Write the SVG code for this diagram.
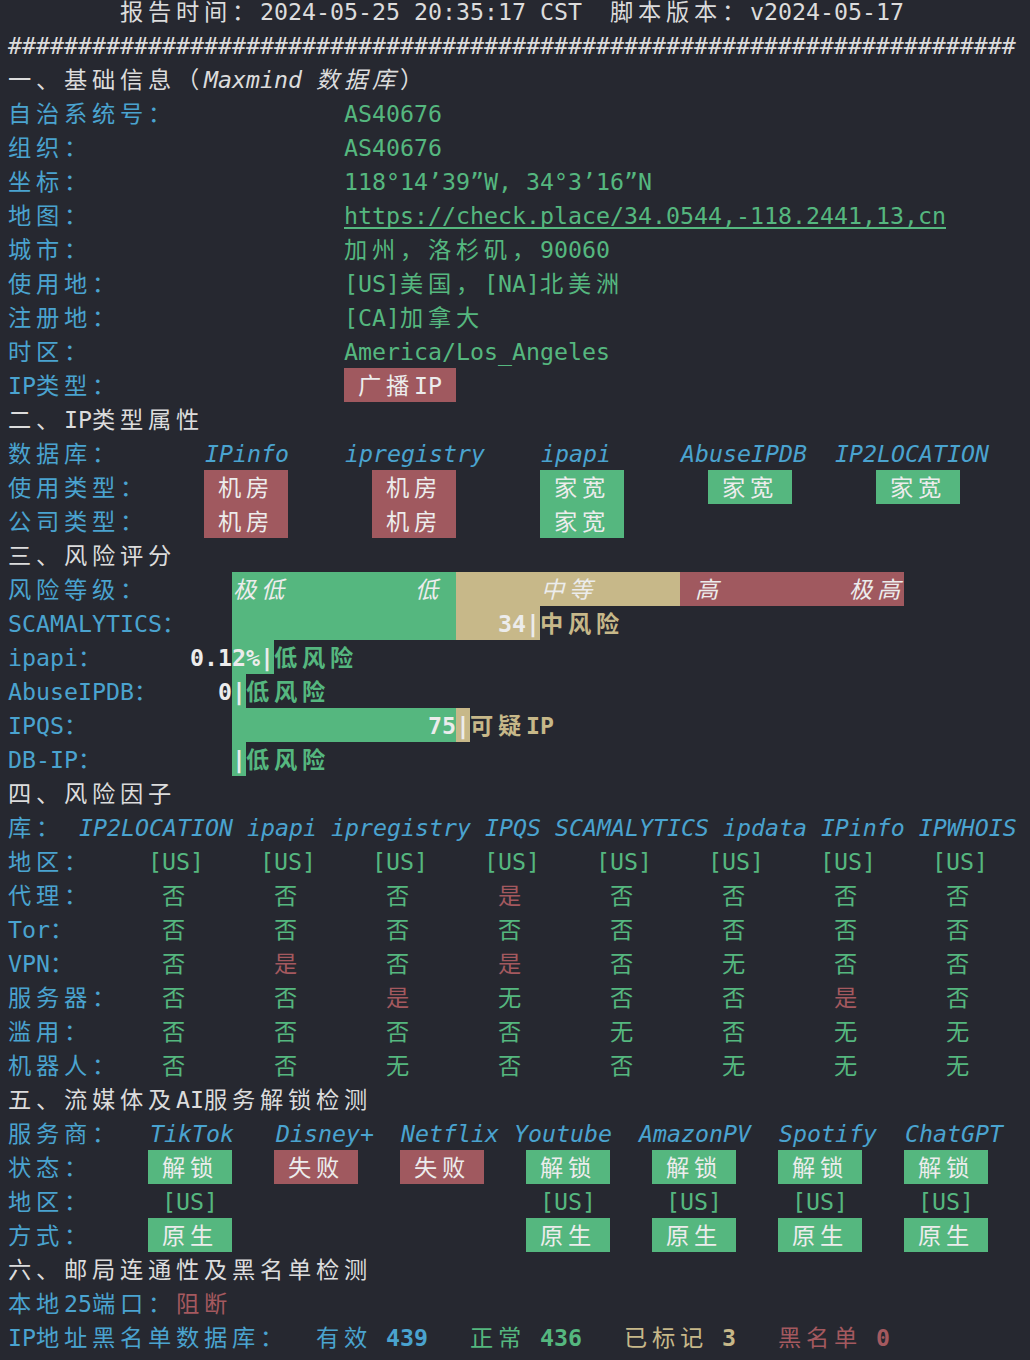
<svg xmlns="http://www.w3.org/2000/svg" width="1030" height="1360" viewBox="0 0 1030 1360">
<style>
.t{font-family:'DejaVu Sans Mono','Noto Sans CJK SC',monospace;font-size:23.25px}
.k{letter-spacing:4.75px}
.w{fill:#dcdcdc}
.c{fill:#4aa3cf}
.g{fill:#55b77f}
.r{fill:#a4595f}
.y{fill:#c7b889}
.bt{fill:#ececec}
.i{font-style:italic}
.b{font-weight:bold}
.gb{fill:#55b77f}
.rb{fill:#a0595f}
.yb{fill:#c7b889}
</style>
<rect x="0" y="0" width="1030" height="1360" fill="#262830"/>

<g id="header">
<text class="t w" y="20"><tspan x="120" class="k">报告时间：</tspan><tspan x="260">2024-05-25 20:35:17 CST</tspan><tspan x="610" class="k">脚本版本：</tspan><tspan x="750">v2024-05-17</tspan></text>
<text class="t w" x="8" y="54">########################################################################</text>
</g>

<g id="sec1-basic">
<text class="t w" y="88"><tspan x="8" class="k">一、基础信息（</tspan><tspan x="204" class="i">Maxmind</tspan><tspan x="316" class="i k">数据库</tspan><tspan x="400" class="k">）</tspan></text>
<text class="t c k" x="8" y="122">自治系统号：</text>
<text class="t g" x="344" y="122">AS40676</text>
<text class="t c k" x="8" y="156">组织：</text>
<text class="t g" x="344" y="156">AS40676</text>
<text class="t c k" x="8" y="190">坐标：</text>
<text class="t g" x="344" y="190">118°14’39”W, 34°3’16”N</text>
<text class="t c k" x="8" y="224">地图：</text>
<text class="t g" x="344" y="224">https://check.place/34.0544,-118.2441,13,cn</text>
<rect class="gb" x="344" y="227" width="602" height="2"/>
<text class="t c k" x="8" y="258">城市：</text>
<text class="t g" y="258"><tspan x="344" class="k">加州，洛杉矶，</tspan><tspan x="540">90060</tspan></text>
<text class="t c k" x="8" y="292">使用地：</text>
<text class="t g" y="292"><tspan x="344">[US]</tspan><tspan x="400" class="k">美国，</tspan><tspan x="484">[NA]</tspan><tspan x="540" class="k">北美洲</tspan></text>
<text class="t c k" x="8" y="326">注册地：</text>
<text class="t g" y="326"><tspan x="344">[CA]</tspan><tspan x="400" class="k">加拿大</tspan></text>
<text class="t c k" x="8" y="360">时区：</text>
<text class="t g" x="344" y="360">America/Los_Angeles</text>
<text class="t c" y="394"><tspan x="8">IP</tspan><tspan x="36" class="k">类型：</tspan></text>
<rect class="rb" x="344" y="368" width="112" height="34"/>
<text class="t bt" y="394"><tspan x="358" class="k">广播</tspan><tspan x="414">IP</tspan></text>
</g>

<g id="sec2-iptype">
<text class="t w" y="428"><tspan x="8" class="k">二、</tspan><tspan x="64">IP</tspan><tspan x="92" class="k">类型属性</tspan></text>
<text class="t c k" x="8" y="462">数据库：</text>
<text class="t c i" y="462"><tspan x="205">IPinfo</tspan><tspan x="345">ipregistry</tspan><tspan x="541">ipapi</tspan><tspan x="681">AbuseIPDB</tspan><tspan x="835">IP2LOCATION</tspan></text>
<text class="t c k" x="8" y="496">使用类型：</text>
<text class="t c k" x="8" y="530">公司类型：</text>
<rect class="rb" x="204" y="470" width="84" height="68"/>
<rect class="rb" x="372" y="470" width="84" height="68"/>
<rect class="gb" x="540" y="470" width="84" height="68"/>
<rect class="gb" x="708" y="470" width="84" height="34"/>
<rect class="gb" x="876" y="470" width="84" height="34"/>
<text class="t bt k" y="496"><tspan x="218">机房</tspan><tspan x="386">机房</tspan><tspan x="554">家宽</tspan><tspan x="722">家宽</tspan><tspan x="890">家宽</tspan></text>
<text class="t bt k" y="530"><tspan x="218">机房</tspan><tspan x="386">机房</tspan><tspan x="554">家宽</tspan></text>
</g>

<g id="sec3-risk">
<text class="t w k" x="8" y="564">三、风险评分</text>
<text class="t c k" x="8" y="598">风险等级：</text>
<rect class="gb" x="232" y="572" width="224" height="68"/>
<rect class="yb" x="456" y="572" width="224" height="34"/>
<rect class="rb" x="680" y="572" width="224" height="34"/>
<text class="t bt i k" y="598"><tspan x="233">极低</tspan><tspan x="415">低</tspan><tspan x="541">中等</tspan><tspan x="695">高</tspan><tspan x="849">极高</tspan></text>

<text class="t c" y="632"><tspan x="8">SCAMALYTICS</tspan><tspan x="162" class="k">：</tspan></text>
<rect class="yb" x="456" y="606" width="84" height="34"/>
<text class="t bt b" y="632"><tspan x="498">34</tspan><tspan x="526">|</tspan></text>
<text class="t y b k" x="540" y="632">中风险</text>

<text class="t c" y="666"><tspan x="8">ipapi</tspan><tspan x="78" class="k">：</tspan></text>
<rect class="gb" x="232" y="640" width="42" height="34"/>
<text class="t bt b" y="666"><tspan x="190">0.12%</tspan><tspan x="260">|</tspan></text>
<text class="t g b k" x="274" y="666">低风险</text>

<text class="t c" y="700"><tspan x="8">AbuseIPDB</tspan><tspan x="134" class="k">：</tspan></text>
<rect class="gb" x="232" y="674" width="14" height="34"/>
<text class="t bt b" y="700"><tspan x="218">0</tspan><tspan x="232">|</tspan></text>
<text class="t g b k" x="246" y="700">低风险</text>

<text class="t c" y="734"><tspan x="8">IPQS</tspan><tspan x="64" class="k">：</tspan></text>
<rect class="gb" x="232" y="708" width="224" height="34"/>
<rect class="yb" x="456" y="708" width="14" height="34"/>
<text class="t bt b" y="734"><tspan x="428">75</tspan><tspan x="456">|</tspan></text>
<text class="t y b" y="734"><tspan x="470" class="k">可疑</tspan><tspan x="526">IP</tspan></text>

<text class="t c" y="768"><tspan x="8">DB-IP</tspan><tspan x="78" class="k">：</tspan></text>
<rect class="gb" x="232" y="742" width="14" height="34"/>
<text class="t bt b" x="232" y="768">|</text>
<text class="t g b k" x="246" y="768">低风险</text>
</g>

<g id="sec4-factors">
<text class="t w k" x="8" y="802">四、风险因子</text>
<text class="t c k" x="8" y="836">库：</text>
<text class="t c i" x="79" y="836">IP2LOCATION ipapi ipregistry IPQS SCAMALYTICS ipdata IPinfo IPWHOIS</text>
<text class="t c k" x="8" y="870">地区：</text>
<text class="t g" y="870"><tspan x="148">[US]</tspan><tspan x="260">[US]</tspan><tspan x="372">[US]</tspan><tspan x="484">[US]</tspan><tspan x="596">[US]</tspan><tspan x="708">[US]</tspan><tspan x="820">[US]</tspan><tspan x="932">[US]</tspan></text>
<text class="t c k" x="8" y="904">代理：</text>
<text class="t g k" y="904"><tspan x="162">否</tspan><tspan x="274">否</tspan><tspan x="386">否</tspan><tspan x="498" class="r">是</tspan><tspan x="610">否</tspan><tspan x="722">否</tspan><tspan x="834">否</tspan><tspan x="946">否</tspan></text>
<text class="t c" y="938"><tspan x="8">Tor</tspan><tspan x="50" class="k">：</tspan></text>
<text class="t g k" y="938"><tspan x="162">否</tspan><tspan x="274">否</tspan><tspan x="386">否</tspan><tspan x="498">否</tspan><tspan x="610">否</tspan><tspan x="722">否</tspan><tspan x="834">否</tspan><tspan x="946">否</tspan></text>
<text class="t c" y="972"><tspan x="8">VPN</tspan><tspan x="50" class="k">：</tspan></text>
<text class="t g k" y="972"><tspan x="162">否</tspan><tspan x="274" class="r">是</tspan><tspan x="386">否</tspan><tspan x="498" class="r">是</tspan><tspan x="610">否</tspan><tspan x="722">无</tspan><tspan x="834">否</tspan><tspan x="946">否</tspan></text>
<text class="t c k" x="8" y="1006">服务器：</text>
<text class="t g k" y="1006"><tspan x="162">否</tspan><tspan x="274">否</tspan><tspan x="386" class="r">是</tspan><tspan x="498">无</tspan><tspan x="610">否</tspan><tspan x="722">否</tspan><tspan x="834" class="r">是</tspan><tspan x="946">否</tspan></text>
<text class="t c k" x="8" y="1040">滥用：</text>
<text class="t g k" y="1040"><tspan x="162">否</tspan><tspan x="274">否</tspan><tspan x="386">否</tspan><tspan x="498">否</tspan><tspan x="610">无</tspan><tspan x="722">否</tspan><tspan x="834">无</tspan><tspan x="946">无</tspan></text>
<text class="t c k" x="8" y="1074">机器人：</text>
<text class="t g k" y="1074"><tspan x="162">否</tspan><tspan x="274">否</tspan><tspan x="386">无</tspan><tspan x="498">否</tspan><tspan x="610">否</tspan><tspan x="722">无</tspan><tspan x="834">无</tspan><tspan x="946">无</tspan></text>
</g>

<g id="sec5-media">
<text class="t w" y="1108"><tspan x="8" class="k">五、流媒体及</tspan><tspan x="176">AI</tspan><tspan x="204" class="k">服务解锁检测</tspan></text>
<text class="t c k" x="8" y="1142">服务商：</text>
<text class="t c i" y="1142"><tspan x="150">TikTok</tspan><tspan x="276">Disney+</tspan><tspan x="401">Netflix</tspan><tspan x="514">Youtube</tspan><tspan x="639">AmazonPV</tspan><tspan x="779">Spotify</tspan><tspan x="905">ChatGPT</tspan></text>
<text class="t c k" x="8" y="1176">状态：</text>
<rect class="gb" x="148" y="1150" width="84" height="34"/>
<rect class="rb" x="274" y="1150" width="84" height="34"/>
<rect class="rb" x="400" y="1150" width="84" height="34"/>
<rect class="gb" x="526" y="1150" width="84" height="34"/>
<rect class="gb" x="652" y="1150" width="84" height="34"/>
<rect class="gb" x="778" y="1150" width="84" height="34"/>
<rect class="gb" x="904" y="1150" width="84" height="34"/>
<text class="t bt k" y="1176"><tspan x="162">解锁</tspan><tspan x="288">失败</tspan><tspan x="414">失败</tspan><tspan x="540">解锁</tspan><tspan x="666">解锁</tspan><tspan x="792">解锁</tspan><tspan x="918">解锁</tspan></text>
<text class="t c k" x="8" y="1210">地区：</text>
<text class="t g" y="1210"><tspan x="162">[US]</tspan><tspan x="540">[US]</tspan><tspan x="666">[US]</tspan><tspan x="792">[US]</tspan><tspan x="918">[US]</tspan></text>
<text class="t c k" x="8" y="1244">方式：</text>
<rect class="gb" x="148" y="1218" width="84" height="34"/>
<rect class="gb" x="526" y="1218" width="84" height="34"/>
<rect class="gb" x="652" y="1218" width="84" height="34"/>
<rect class="gb" x="778" y="1218" width="84" height="34"/>
<rect class="gb" x="904" y="1218" width="84" height="34"/>
<text class="t bt k" y="1244"><tspan x="162">原生</tspan><tspan x="540">原生</tspan><tspan x="666">原生</tspan><tspan x="792">原生</tspan><tspan x="918">原生</tspan></text>
</g>

<g id="sec6-mail">
<text class="t w k" x="8" y="1278">六、邮局连通性及黑名单检测</text>
<text class="t c" y="1312"><tspan x="8" class="k">本地</tspan><tspan x="64">25</tspan><tspan x="92" class="k">端口：</tspan></text>
<text class="t r k" x="176" y="1312">阻断</text>
<text class="t c" y="1346"><tspan x="8">IP</tspan><tspan x="36" class="k">地址黑名单数据库：</tspan></text>
<text class="t c" y="1346"><tspan x="316" class="k">有效</tspan><tspan x="386" class="b">439</tspan></text>
<text class="t g" y="1346"><tspan x="470" class="k">正常</tspan><tspan x="540" class="b">436</tspan></text>
<text class="t y" y="1346"><tspan x="624" class="k">已标记</tspan><tspan x="722" class="b">3</tspan></text>
<text class="t r" y="1346"><tspan x="778" class="k">黑名单</tspan><tspan x="876" class="b">0</tspan></text>
</g>
</svg>
